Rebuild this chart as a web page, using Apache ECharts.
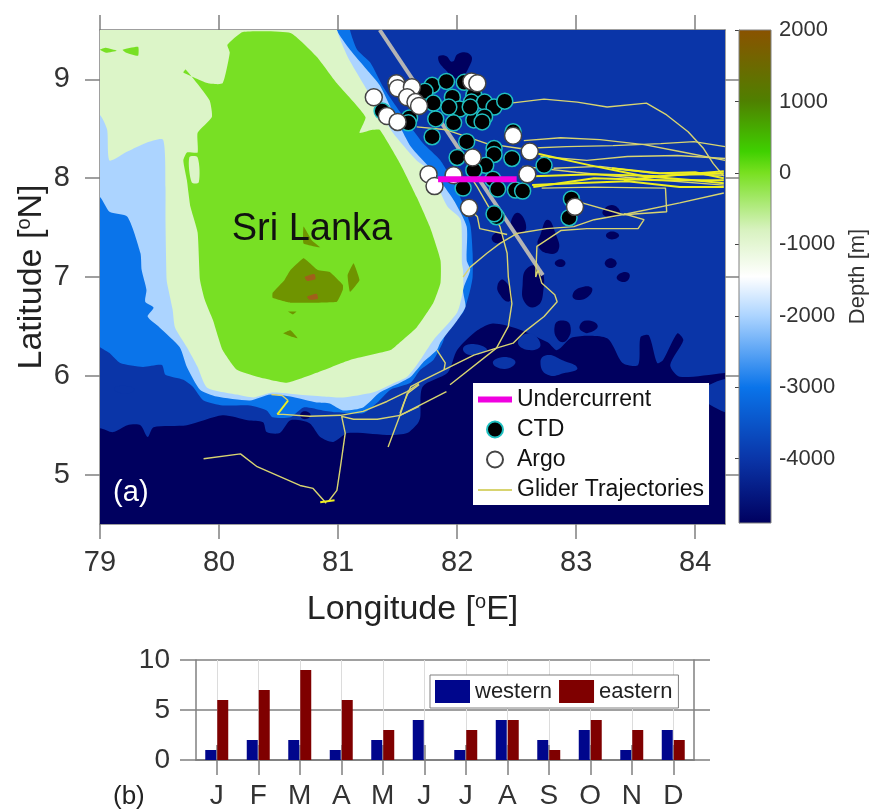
<!DOCTYPE html>
<html><head><meta charset="utf-8">
<style>html,body{margin:0;padding:0;background:#fff}#c{width:871px;height:811px}</style>
<script src="https://cdn.jsdelivr.net/npm/echarts@6/dist/echarts.min.js"></script>
</head><body><div id="c"></div>
<script>
// ---------- tick labels / categories ----------
const lonTicks=[79,80,81,82,83,84];
const latTicks=[5,6,7,8,9];
const depthTicks=[2000,1000,0,-1000,-2000,-3000,-4000];
const months=['J','F','M','A','M','J','J','A','S','O','N','D'];
// ---------- panel (b) ----------
const western=[1,2,2,1,2,4,1,4,2,3,1,3];
const eastern=[6,7,9,6,3,0,3,4,1,4,3,2];
// ---------- colour scale ----------
const scaleValues=[2000,1000,300,0,-800,-1450,-2000,-3000,-4000,-4900];
const scaleColors=['#8a5200','#4f8000','#3fd000','#78e020','#d8f2c0','#ffffff','#acd4ff','#0a74ea','#0a35a8','#00005f'];
// ---------- bathymetry contours [lon,lat] ----------
const fullExtent=[[79,4.5],[84.25,4.5],[84.25,9.5],[79,9.5]];
const navySouth=[[79,5.47],[79.11,5.43],[79.23,5.5],[79.34,5.5],[79.4,5.38],[79.45,5.48],[79.73,5.5],[80.03,5.6],[80.24,5.55],[80.37,5.53],[80.4,5.43],[80.51,5.42],[80.6,5.55],[80.76,5.52],[80.85,5.38],[80.96,5.33],[81.08,5.42],[81.44,5.4],[81.58,5.42],[81.67,5.52],[81.69,5.58],[81.71,5.89],[81.92,6.03],[82,6.26],[82.17,6.46],[82.3,6.53],[82.5,6.48],[82.76,6.34],[82.84,6.26],[82.97,6.39],[83.26,6.38],[83.39,6.13],[83.52,6.11],[83.54,6.39],[83.61,6.41],[83.68,6.13],[83.73,6.16],[83.85,6.43],[83.9,6.36],[83.79,6.11],[83.87,5.99],[84.5,5.98],[84.5,4.2],[78.7,4.2],[78.7,5.47]];
const deepPatches=[
 [[82.3,6.13],[82.39,6.19],[82.49,6.14],[82.4,6.07]],
 [[82.7,6.14],[82.76,6.21],[82.88,6.16],[83.01,6.08],[82.91,6.03],[82.76,6.01]],
 [[82.05,6.28],[82.15,6.32],[82.25,6.26],[82.11,6.21]],
 [[82.51,6.34],[82.61,6.43],[82.7,6.31],[82.6,6.26]],
 [[84.12,5.91],[84.5,5.93],[84.5,5.63],[84.12,5.71]],
 [[79.12,5.87],[79.2,5.9],[79.29,5.86],[79.2,5.82]]
];
const navyBlobs=[
 [[81.84,9.22],[81.9,9.1],[82.01,9.01],[82.11,9.15],[82.11,9.25],[82.01,9.26],[81.96,9.18],[81.9,9.24]],
 [[82.45,7.53],[82.51,7.65],[82.58,7.5],[82.51,7.43]],
 [[82.7,7.43],[82.76,7.58],[82.83,7.43],[82.85,7.27],[82.76,7.24],[82.68,7.32]],
 [[82.29,7.39],[82.34,7.45],[82.39,7.39],[82.34,7.34]],
 [[83.22,7.65],[83.3,7.73],[83.37,7.65],[83.3,7.6]],
 [[83.25,7.42],[83.3,7.46],[83.36,7.42],[83.3,7.38]],
 [[83.24,7.14],[83.29,7.19],[83.34,7.14],[83.29,7.09]],
 [[82.82,7.14],[82.87,7.18],[82.91,7.14],[82.87,7.1]],
 [[82.55,6.92],[82.59,7.09],[82.7,7.09],[82.72,6.82],[82.66,6.7],[82.57,6.74]],
 [[82.34,6.92],[82.39,6.97],[82.46,6.82],[82.43,6.75],[82.36,6.82]],
 [[82.97,6.82],[83.03,6.89],[83.13,6.89],[83.1,6.8],[83,6.77]],
 [[83.34,6.99],[83.4,7.05],[83.45,7.02],[83.41,6.95]],
 [[82.82,6.51],[82.88,6.56],[82.95,6.51],[82.92,6.36],[82.85,6.36]],
 [[83.03,6.51],[83.09,6.56],[83.18,6.51],[83.12,6.44],[83.05,6.45]],
 [[80.68,5.6],[80.72,5.64],[80.77,5.6],[80.72,5.56]]
];
const midContour=[[78.8,6.45],[79,6.29],[79.08,6.23],[79.17,6.13],[79.36,6.09],[79.52,6.11],[79.55,6.01],[79.7,5.96],[79.78,5.89],[79.87,5.75],[80.03,5.7],[80.26,5.7],[80.4,5.65],[80.45,5.58],[80.6,5.58],[80.71,5.68],[80.87,5.65],[80.99,5.63],[81.21,5.62],[81.33,5.73],[81.44,5.86],[81.61,5.93],[81.69,6.06],[81.8,6.16],[81.88,6.34],[81.92,6.49],[82.05,6.64],[82.11,6.87],[82.13,7],[82.13,7.24],[82.11,7.53],[82,7.88],[81.86,8.18],[81.71,8.36],[81.55,8.62],[81.38,8.92],[81.27,9.17],[81.16,9.3],[81.1,9.5],[81.05,9.9],[78.6,9.9]];
const lightContour=[[78.8,7.95],[79,7.81],[79.08,7.66],[79.23,7.61],[79.34,7.24],[79.35,7.07],[79.39,6.87],[79.38,6.75],[79.45,6.69],[79.4,6.6],[79.5,6.49],[79.67,6.29],[79.73,6.09],[79.84,5.86],[79.98,5.79],[80.26,5.75],[80.43,5.81],[80.6,5.79],[80.82,5.73],[80.93,5.72],[81.04,5.65],[81.21,5.68],[81.35,5.83],[81.52,5.93],[81.61,5.99],[81.71,6.13],[81.83,6.26],[81.86,6.34],[82,6.56],[82.07,6.7],[82.05,6.87],[82.11,7.07],[82.08,7.17],[82.08,7.51],[81.97,7.78],[81.79,8.08],[81.61,8.32],[81.44,8.72],[81.35,8.94],[81.24,9.1],[81.1,9.3],[80.99,9.5],[80.94,9.9],[78.6,9.9]];
const paleContour=[[78.8,8.8],[79,8.64],[79.06,8.49],[79.08,8.18],[79.23,8.27],[79.39,8.36],[79.53,8.39],[79.55,7.91],[79.55,7.58],[79.56,6.97],[79.57,6.9],[79.61,6.67],[79.63,6.49],[79.73,6.29],[79.82,6.09],[79.9,5.88],[80.15,5.81],[80.29,5.78],[80.45,5.83],[80.66,5.81],[80.87,5.79],[81.04,5.78],[81.29,5.83],[81.44,5.91],[81.58,5.99],[81.69,6.16],[81.8,6.36],[82,6.64],[82.05,6.87],[82.05,7.07],[82.04,7.14],[82.03,7.58],[81.92,7.71],[81.77,8.08],[81.66,8.18],[81.46,8.46],[81.33,8.72],[81.18,9.02],[81.08,9.23],[80.99,9.5],[80.94,9.9],[78.6,9.9]];
const lagoon=[[79.75,8.21],[79.82,8.21],[79.83,7.96],[79.77,7.96]];
const landContour=[[80.2,9.48],[80.07,9.35],[80.09,9.27],[80.03,8.96],[79.91,8.96],[79.7,9.07],[79.72,9.1],[79.92,8.79],[79.94,8.62],[79.82,8.46],[79.82,8.26],[79.73,8.26],[79.7,8.18],[79.73,7.98],[79.76,7.71],[79.82,7.45],[79.84,6.97],[79.88,6.77],[79.95,6.56],[80.03,6.26],[80.15,6.06],[80.32,5.99],[80.57,5.93],[80.82,6.03],[81.1,6.16],[81.44,6.26],[81.52,6.34],[81.66,6.49],[81.8,6.74],[81.86,6.94],[81.86,7.17],[81.77,7.51],[81.66,7.81],[81.52,8.15],[81.35,8.49],[81.29,8.49],[81.18,8.46],[81.23,8.62],[80.99,8.96],[80.82,9.23],[80.6,9.47]];
const islets=[[[79,9.3],[79.05,9.32],[79.14,9.29],[79.05,9.27]],[[79.19,9.3],[79.32,9.33],[79.32,9.24],[79.22,9.27]]];
const hills=[
 [[80.45,6.84],[80.55,6.97],[80.6,7.07],[80.71,7.19],[80.83,7.07],[80.93,7.05],[81.04,6.92],[81.04,6.87],[80.99,6.75],[80.6,6.74],[80.45,6.79]],
 [[81.08,7.02],[81.13,7.14],[81.18,6.97],[81.1,6.85]],
 [[80.71,7.51],[80.78,7.37],[80.85,7.3],[80.71,7.34]],
 [[80.54,6.43],[80.6,6.46],[80.66,6.38],[80.6,6.4]],
 [[80.58,6.65],[80.65,6.65],[80.62,6.62]]
];
const peaks=[[[80.72,7],[80.8,7.03],[80.81,6.98],[80.74,6.96]],[[80.74,6.8],[80.82,6.83],[80.83,6.78],[80.76,6.77]]];
// ---------- observations [lon,lat] ----------
const ctd=[[81.79,8.94],[81.91,8.98],[82.06,8.97],[81.73,8.88],[81.8,8.76],[81.96,8.82],[82.02,8.7],[82.14,8.84],[82.12,8.77],[82.23,8.77],[82.31,8.72],[82.4,8.78],[81.82,8.6],[81.97,8.56],[82.14,8.59],[82.23,8.62],[82.21,8.57],[81.6,8.61],[81.59,8.56],[81.37,8.68],[81.79,8.42],[82.08,8.37],[82,8.21],[82.31,8.3],[82.31,8.24],[82.46,8.2],[82.24,8.13],[82.14,8.08],[82.73,8.13],[82.47,8.47],[82.3,7.99],[82.05,7.9],[82.34,7.89],[82.49,7.88],[82.55,7.87],[82.33,7.61],[82.31,7.64],[82.96,7.79],[82.94,7.6],[81.93,8.72],[82.11,8.72]];
const argo=[[81.3,8.82],[81.49,8.96],[81.5,8.91],[81.62,8.92],[81.58,8.82],[81.65,8.77],[81.68,8.73],[81.41,8.63],[81.5,8.57],[82.12,8.98],[82.17,8.96],[82.47,8.43],[82.61,8.27],[82.13,8.21],[82.59,8.04],[81.76,8.04],[81.81,7.92],[81.97,8.03],[82.1,7.7],[82.99,7.71]];
const undercurrent=[[81.84,7.99],[82.5,7.99]];
const section=[[81.35,9.5],[82.72,7.02]];
const gliderTracks=[
 [[82.45,8.76],[82.73,8.8],[83.01,8.77],[83.26,8.72],[83.59,8.76],[83.76,8.64],[83.94,8.47],[84.07,8.3],[84.15,8.15],[84.24,8.02]],
 [[82.56,8.38],[82.87,8.41],[83.2,8.39],[83.57,8.34],[83.87,8.27],[84.25,8.18]],
 [[82.53,8.3],[82.92,8.32],[83.31,8.33],[83.71,8.35],[83.99,8.37],[84.25,8.32]],
 [[82.7,8.22],[83.09,8.18],[83.43,8.22],[83.85,8.23],[84.25,8.2]],
 [[82.81,8.1],[83.2,8.12],[83.65,8.05],[84.24,8.03]],
 [[82.55,8.12],[83,8.06],[83.5,8],[84.24,7.93]],
 [[82.71,7.9],[83.15,7.91],[83.75,7.9],[83.76,7.66],[83.4,7.63],[83.05,7.75],[82.94,7.78]],
 [[84.24,7.85],[83.87,7.75],[83.43,7.64],[83.15,7.58],[82.98,7.51],[82.75,7.49],[82.5,7.44],[82.36,7.34],[82.25,7.24],[82.11,7.1],[82.05,7]],
 [[83.4,7.64],[83.57,7.58],[83.52,7.49],[83.31,7.49],[83.09,7.49],[82.87,7.47],[82.67,7.31],[82.66,7],[82.68,7.07],[82.71,6.94],[82.82,6.82],[82.84,6.75],[82.73,6.6],[82.57,6.45],[82.47,6.33],[82.33,6.28],[82.14,6.21],[81.94,6.09],[81.69,5.94],[81.61,5.89],[81.55,5.72],[81.52,5.62]],
 [[81.68,5.92],[81.58,5.84],[81.41,5.74],[81.21,5.64],[81.02,5.6],[80.76,5.59],[80.54,5.61],[80.49,5.61]],
 [[81.68,5.69],[81.52,5.6],[81.33,5.56],[81.13,5.56],[81.03,5.59],[81.06,5.42],[81.02,5.08],[80.99,4.84],[80.92,4.73]],
 [[79.87,5.16],[80.18,5.21],[80.32,5.08],[80.68,4.89],[80.79,4.86],[80.9,4.71]],
 [[81.68,5.91],[81.58,5.82],[81.52,5.6],[81.42,5.28]],
 [[82.43,7],[82.46,6.73],[82.43,6.5],[82.33,6.28],[81.94,5.91]],
 [[81.91,5.84],[81.52,5.6]],
 [[82.43,7],[82.42,7.24],[82.36,7.51],[82.17,7.91],[82.11,8.02]],
 [[81.83,6.26],[81.9,6.13],[81.89,6.06]],
 [[82.11,7.68],[82.17,7.61],[82.19,7.49],[82.42,7.43]],
 [[81.66,8.52],[81.91,8.49],[82.25,8.35],[82.53,8.3]],
 [[80.58,5.75],[80.53,5.8],[80.44,5.81]]
];
const brightTracks=[
 [[82.67,8.25],[83.12,8.13],[83.57,8.02],[83.99,7.98],[84.24,7.95]],
 [[82.64,8.02],[83.15,8.04],[83.71,8.02],[84.24,8.07]],
 [[82.63,7.93],[82.98,7.95],[83.43,7.97],[83.87,7.91],[84.24,7.91]],
 [[82.64,7.91],[83.15,8],[83.71,7.98],[84.24,7.98]],
 [[83.3,8.1],[83.7,8.05],[84,8.06],[84.24,8]],
 [[83.4,7.98],[83.8,8.03],[84.24,8.05]],
 [[80.49,5.61],[80.58,5.75]],
 [[80.85,4.72],[80.97,4.74]]
];
// ---------- annotations [lon,lat] ----------
const islandLabel=[80.78,7.48];
const panelLabel=[79.11,4.81];

const GLIDER='Glider Trajectories', AX='#808080', TXT='#333333';
function layer(color,polys,smooth){
  return {type:'custom',xAxisIndex:0,yAxisIndex:0,silent:true,z:2,clip:true,
    data:polys.map((p,i)=>[p[0][0],p[0][1],i]),
    renderItem:(params,api)=>({type:'polygon',shape:{points:polys[params.dataIndex].map(c=>api.coord(c)),smooth:smooth||0},style:{fill:color}})};
}
function track(data,color,width){
  return {type:'line',name:GLIDER,xAxisIndex:0,yAxisIndex:0,data:data,symbol:'none',silent:true,z:3,
    lineStyle:{color:color,width:width},itemStyle:{color:color}};
}
const tick=(len,extra)=>Object.assign({show:true,length:len,lineStyle:{color:AX,width:1.5}},extra||{});
const mapAxisCommon={axisLine:{show:true,lineStyle:{color:AX,width:1.5}},splitLine:{show:false}};
const supStyle={s:{fontSize:20,verticalAlign:'top',padding:[0,0,16,0],color:'#222'}};
const option={
  animation:false,backgroundColor:'#fff',
  textStyle:{fontFamily:'"Liberation Sans",Arial,sans-serif'},
  grid:[
    {left:100,top:30,width:625,height:494},
    {left:196,top:660,width:498,height:100},
    {left:739,top:30,width:32,height:493}
  ],
  xAxis:[
    Object.assign({},mapAxisCommon,{type:'value',gridIndex:0,min:79,max:84.25,position:'bottom',
      axisTick:tick(15,{customValues:lonTicks}),
      axisLabel:{fontSize:29,color:TXT,margin:24,customValues:lonTicks},
      name:'Longitude [{s|o}E]',nameLocation:'middle',nameGap:68,
      nameTextStyle:{fontSize:34,color:'#222',rich:supStyle}}),
    Object.assign({},mapAxisCommon,{type:'value',gridIndex:0,min:79,max:84.25,position:'top',
      axisTick:tick(15,{customValues:lonTicks}),axisLabel:{show:false}}),
    {type:'category',gridIndex:1,data:months,position:'bottom',axisLine:{show:true,lineStyle:{color:AX,width:1.5}},
      axisTick:tick(15,{alignWithLabel:true}),
      axisLabel:{fontSize:28,color:TXT,margin:22,interval:0},
      splitLine:{show:true,alignWithLabel:true,lineStyle:{color:'#dcdcdc',width:1}}},
    {type:'category',gridIndex:1,data:months,position:'top',axisLine:{show:true,lineStyle:{color:AX,width:1.5}},
      axisTick:tick(15,{alignWithLabel:true}),axisLabel:{show:false}},
    {type:'value',gridIndex:2,min:0,max:1,show:false}
  ],
  yAxis:[
    Object.assign({},mapAxisCommon,{type:'value',gridIndex:0,min:4.5,max:9.5,position:'left',
      axisTick:tick(15,{customValues:latTicks}),
      axisLabel:{fontSize:29,color:TXT,margin:30,customValues:latTicks},
      name:'Latitude [{s|o}N]',nameLocation:'middle',nameGap:50,nameMoveOverlap:false,
      nameTextStyle:{fontSize:34,color:'#222',rich:supStyle}}),
    Object.assign({},mapAxisCommon,{type:'value',gridIndex:0,min:4.5,max:9.5,position:'right',
      axisTick:tick(15,{customValues:latTicks}),axisLabel:{show:false}}),
    {type:'value',gridIndex:1,min:0,max:10,interval:5,position:'left',
      axisLine:{show:true,lineStyle:{color:AX,width:1.5}},
      axisTick:tick(16),
      axisLabel:{fontSize:28,color:TXT,margin:26},
      splitLine:{show:true,lineStyle:{color:AX,width:1.5}}},
    {type:'value',gridIndex:1,min:0,max:10,interval:5,position:'right',
      axisLine:{show:true,lineStyle:{color:AX,width:1.5}},
      axisTick:tick(16),axisLabel:{show:false},splitLine:{show:false}},
    {type:'value',gridIndex:2,min:-4900,max:2000,position:'right',
      axisLine:{show:true,lineStyle:{color:AX,width:1}},
      axisTick:{show:true,inside:true,length:4,lineStyle:{color:'#444',width:1},customValues:depthTicks},
      axisLabel:{fontSize:22,color:TXT,margin:8,customValues:depthTicks,formatter:v=>String(v)},
      splitLine:{show:false},
      name:'Depth [m]',nameLocation:'middle',nameGap:76,nameRotate:90,nameTextStyle:{fontSize:22,color:TXT}}
  ],
  legend:[
    {data:[{name:'Undercurrent',icon:'path://M0 4H34V10H0Z M0 0L34 0L34 0Z M0 14L34 14L34 14Z'},{name:'CTD',icon:'circle'},{name:'Argo',icon:'circle'},{name:GLIDER,icon:'path://M0 7H34V9H0Z M0 0L34 0L34 0Z M0 15L34 15L34 15Z'}],
      orient:'vertical',left:473,top:383,selectedMode:false,
      backgroundColor:'#fff',padding:[5,5,4,5],itemWidth:34,itemHeight:16,itemGap:7,
      textStyle:{fontSize:23,lineHeight:22,color:'#111'},z:20},
    {data:[{name:'western',icon:'rect'},{name:'eastern',icon:'rect'}],orient:'horizontal',left:430,top:675,selectedMode:false,
      backgroundColor:'#fff',borderColor:'#808080',borderWidth:1,padding:[5,6,5,5],itemWidth:35,itemHeight:23,itemGap:7,
      textStyle:{fontSize:22,color:'#222'},z:20}
  ],
  graphic:[{type:'text',left:113,top:784,style:{text:'(b)',font:'26px "Liberation Sans",Arial,sans-serif',fill:'#222'}}],
  series:[
    layer('#0a35a8',[fullExtent]),
    layer('#00005f',[navySouth],0.25),
    layer('#0a35a8',deepPatches,0.5),
    layer('#00005f',navyBlobs,0.5),
    layer('#0a74ea',[midContour],0.2),
    layer('#acd4ff',[lightContour],0.2),
    layer('#dcf5c8',[paleContour],0.2),
    layer('#78e024',[landContour].concat(islets),0.15),
    layer('#dcf5c8',[lagoon],0.3),
    layer('#6f9400',hills,0.1),
    layer('#a0601a',peaks,0.2),
    {type:'line',xAxisIndex:0,yAxisIndex:0,data:section,symbol:'none',silent:true,z:3,lineStyle:{color:'#b4b4b4',width:4}},
    ...gliderTracks.map(t=>track(t,'#d8d470',1.4)),
    ...brightTracks.map(t=>track(t,'#eeee20',2)),
    {type:'scatter',name:'CTD',xAxisIndex:0,yAxisIndex:0,data:ctd,symbol:'circle',symbolSize:16,silent:true,z:4,
      itemStyle:{color:'#000',borderColor:'#20c0c0',borderWidth:1.5,opacity:1}},
    {type:'scatter',name:'Argo',xAxisIndex:0,yAxisIndex:0,data:argo,symbol:'circle',symbolSize:17,silent:true,z:5,
      itemStyle:{color:'#fff',borderColor:'#444',borderWidth:1.5,opacity:1}},
    {type:'line',name:'Undercurrent',xAxisIndex:0,yAxisIndex:0,data:undercurrent,symbol:'none',silent:true,z:6,
      lineStyle:{color:'#f000e0',width:6},itemStyle:{color:'#f000e0'}},
    {type:'scatter',xAxisIndex:0,yAxisIndex:0,data:[islandLabel],symbolSize:0,silent:true,z:7,itemStyle:{opacity:1},
      label:{show:true,position:'inside',formatter:'Sri Lanka',fontSize:38,color:'#111',opacity:1}},
    {type:'scatter',xAxisIndex:0,yAxisIndex:0,data:[panelLabel],symbolSize:0,silent:true,z:7,itemStyle:{opacity:1},
      label:{show:true,position:'right',distance:0,formatter:'(a)',fontSize:29,color:'#fff',opacity:1}},
    {type:'bar',name:'western',xAxisIndex:2,yAxisIndex:2,data:western,barWidth:11,barGap:'9%',itemStyle:{color:'#00068c'},silent:true,z:3},
    {type:'bar',name:'eastern',xAxisIndex:2,yAxisIndex:2,data:eastern,barWidth:11,itemStyle:{color:'#7f0000'},silent:true,z:3},
    {type:'custom',xAxisIndex:4,yAxisIndex:4,silent:true,data:[[0,-4900,1,2000]],
      renderItem:(params,api)=>{
        const a=api.coord([0,2000]),b=api.coord([1,-4900]);
        const stops=scaleValues.map((v,i)=>({offset:(2000-v)/6900,color:scaleColors[i]}));
        return {type:'rect',shape:{x:a[0],y:a[1],width:b[0]-a[0],height:b[1]-a[1]},
          style:{fill:new echarts.graphic.LinearGradient(0,0,0,1,stops),stroke:'#808080',lineWidth:1}};
      }}
  ]
};
echarts.init(document.getElementById('c'),null,{renderer:'canvas'}).setOption(option);
</script></body></html>
